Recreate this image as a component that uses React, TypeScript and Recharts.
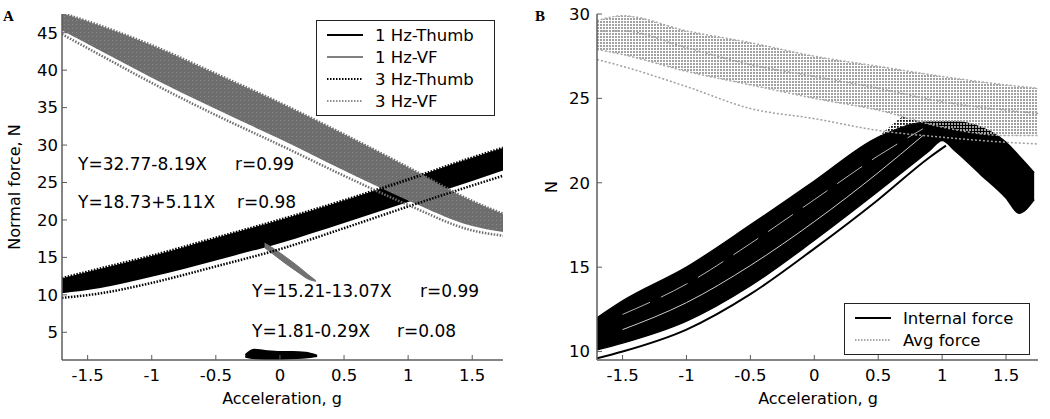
import React from "react";
import { ComposedChart, Area, Line, XAxis, YAxis, Legend } from "recharts";

// ---- panel A: normal force vs acceleration ----
const accA = [-1.7, -1.4, -1.0, -0.5, 0, 0.5, 1.0, 1.5, 1.74];
const vfHigh = [47.6, 45.9, 43.3, 39.5, 35.6, 31.4, 27.0, 22.5, 20.8];
const vfLow = [45.3, 42.6, 39.0, 34.8, 30.8, 26.6, 22.6, 19.2, 18.4];
const vfEdge = [44.8, 42.0, 38.3, 34.0, 30.0, 25.9, 22.0, 18.6, 17.9];
const thumbHigh = [12.2, 13.5, 15.2, 17.6, 20.0, 22.6, 25.4, 28.3, 29.6];
const thumbLow = [10.2, 10.9, 12.4, 14.6, 16.9, 19.6, 22.4, 25.2, 26.6];
const thumbEdge = [9.6, 10.2, 11.6, 13.8, 16.1, 18.9, 21.8, 24.6, 25.9];

const sliverAcc = [-0.12, -0.05, 0.05, 0.15, 0.22, 0.28];
const sliverHigh = [16.9, 16.2, 15.0, 13.7, 12.7, 11.9];
const sliverLow = [16.3, 15.4, 14.1, 12.9, 12.1, 11.8];

const blobAcc = [-0.27, -0.2, -0.1, 0, 0.1, 0.2, 0.29];
const blobHigh = [2.0, 2.7, 2.5, 2.4, 2.4, 2.3, 1.9];
const blobLow = [1.7, 1.5, 1.4, 1.4, 1.5, 1.6, 1.8];

const xTicks = [-1.5, -1, -0.5, 0, 0.5, 1, 1.5];
const yTicksA = [5, 10, 15, 20, 25, 30, 35, 40, 45];

// ---- panel B: internal / average force ----
const accB = [-1.7, -1.5, -1.0, -0.5, 0, 0.5, 1.0, 1.5, 1.75];
const avgHigh = [29.6, 29.9, 29.0, 28.3, 27.5, 26.9, 26.3, 25.8, 25.6];
const avgMid = [29.0, 29.0, 28.0, 27.0, 26.3, 25.6, 24.8, 24.3, 24.1];
const avgLow = [27.9, 27.6, 26.6, 25.8, 25.0, 24.3, 23.3, 22.8, 22.8];
const avgEdge = [27.3, 26.9, 25.7, 24.4, 23.8, 23.1, 22.7, 22.4, 22.3];

const accInt = [-1.7, -1.5, -1.0, -0.5, 0, 0.5, 0.9, 1.0, 1.1, 1.3, 1.5, 1.6, 1.72];
const intHigh = [12.0, 13.0, 15.0, 17.5, 20.1, 22.7, 23.6, 23.6, 23.6, 23.3, 22.4, 21.6, 20.6];
const intLow = [10.1, 10.5, 11.8, 13.9, 16.6, 19.5, 21.9, 22.5, 21.9, 20.5, 19.1, 18.2, 19.0];
const capAcc = [0.5, 0.7, 0.9, 1.0, 1.1, 1.3, 1.5];
const capHigh = [22.7, 24.0, 24.9, 25.4, 25.0, 23.8, 22.4];
const capLow = [22.7, 23.2, 23.6, 23.6, 23.6, 23.3, 22.4];
const outerAcc = [-1.7, -1.5, -1.0, -0.5, 0, 0.5, 0.9, 1.03];
const intOuter = [9.6, 10.0, 11.3, 13.4, 16.1, 19.0, 21.5, 22.2];
const streakAcc = [-1.5, -1.0, -0.5, 0, 0.5, 0.85];
const streak1 = [11.3, 12.9, 15.1, 17.7, 20.6, 22.8];
const streak2 = [12.2, 14.0, 16.4, 19.0, 21.6, 23.2];
const yTicksB = [10, 15, 20, 25, 30];

const legendA = [
  { name: "1 Hz-Thumb", color: "#000", dash: undefined },
  { name: "1 Hz-VF", color: "#808080", dash: undefined },
  { name: "3 Hz-Thumb", color: "#000", dash: "1.5 1.5" },
  { name: "3 Hz-VF", color: "#909090", dash: "1.5 1.5" },
];
const legendB = [
  { name: "Internal force", color: "#000", dash: undefined },
  { name: "Avg force", color: "#a8a8a8", dash: "1.5 1.5" },
];

const FONT = "DejaVu Sans, sans-serif";
const FRAME = "#5c5c5c";

const band = (xs: number[], lo: number[], hi: number[]) =>
  xs.map((x, i) => ({ x, r: [lo[i], hi[i]] }));
const trace = (xs: number[], ys: number[]) => xs.map((x, i) => ({ x, y: ys[i] }));

function LegendBox({ items, width }: { items: typeof legendA; width: number }) {
  return (
    <div
      style={{
        border: "1.5px solid #222",
        background: "#fff",
        boxSizing: "border-box",
        width,
        padding: "3px 0 3px 0",
        fontFamily: FONT,
        fontSize: 16.5,
        color: "#000",
      }}
    >
      {items.map((it) => (
        <div key={it.name} style={{ display: "flex", alignItems: "center", height: 22 }}>
          <svg width={58} height={10}>
            <line x1={10} x2={46} y1={5} y2={5} stroke={it.color} strokeWidth={2} strokeDasharray={it.dash} />
          </svg>
          <span style={{ lineHeight: "21px" }}>{it.name}</span>
        </div>
      ))}
    </div>
  );
}

const tickStyle = { fill: "#000", fontSize: 16.5, fontFamily: FONT };
const axisLine = { stroke: FRAME, strokeWidth: 1.5 };

function frameAxes(xDom: number[], yDom: number[], yTicks: number[], yWidth: number, yMargin: number) {
  return [
    <XAxis key="xb" dataKey="x" type="number" domain={xDom} ticks={xTicks} allowDataOverflow interval={0}
      tickSize={-5} tickMargin={14} height={50} axisLine={axisLine} tickLine={{ stroke: FRAME }} tick={tickStyle} />,
    <XAxis key="xt" xAxisId="top" orientation="top" dataKey="x" type="number" domain={xDom} ticks={xTicks}
      allowDataOverflow interval={0} tickSize={-5} height={0} axisLine={axisLine} tickLine={{ stroke: FRAME }} tick={false} />,
    <YAxis key="yl" type="number" domain={yDom} ticks={yTicks} allowDataOverflow interval={0} width={yWidth}
      tickSize={-5} tickMargin={yMargin} axisLine={axisLine} tickLine={{ stroke: FRAME }} tick={tickStyle} />,
    <YAxis key="yr" yAxisId="right" orientation="right" type="number" domain={yDom} ticks={yTicks} allowDataOverflow
      interval={0} width={0} tickSize={-5} axisLine={axisLine} tickLine={{ stroke: FRAME }} tick={false} />,
  ];
}

function ChartA() {
  return (
    <ComposedChart width={525} height={419} margin={{ top: 14, right: 22, bottom: 9, left: 0 }}>
      {frameAxes([-1.7, 1.74], [1.3, 47.5], yTicksA, 62, 9)}
      <Area data={band(accA, thumbLow, thumbHigh)} dataKey="r" type="monotone" stroke="none" fill="#000" fillOpacity={1} isAnimationActive={false} />
      <Line data={trace(accA, thumbEdge)} dataKey="y" type="monotone" stroke="#000" strokeWidth={2.5} strokeDasharray="1.5 1.5" dot={false} isAnimationActive={false} />
      <Line data={trace(accA, thumbHigh)} dataKey="y" type="monotone" stroke="#000" strokeWidth={3} strokeDasharray="1.5 1.5" dot={false} isAnimationActive={false} />
      <Area data={band(accA, vfLow, vfHigh)} dataKey="r" type="monotone" stroke="none" fill="#6e6e6e" fillOpacity={1} isAnimationActive={false} />
      <Area data={band(accA, vfLow, vfHigh)} dataKey="r" type="monotone" stroke="none" fill="url(#vfHatch)" fillOpacity={1} isAnimationActive={false} />
      <Line data={trace(accA, vfEdge)} dataKey="y" type="monotone" stroke="#6e6e6e" strokeWidth={2.5} strokeDasharray="1.5 1.5" dot={false} isAnimationActive={false} />
      <Line data={trace(accA, vfHigh)} dataKey="y" type="monotone" stroke="#6e6e6e" strokeWidth={3} strokeDasharray="1.5 1.5" dot={false} isAnimationActive={false} />
      <Area data={band(sliverAcc, sliverLow, sliverHigh)} dataKey="r" type="monotone" stroke="#707070" strokeWidth={1} fill="#707070" fillOpacity={1} isAnimationActive={false} />
      <Area data={band(blobAcc, blobLow, blobHigh)} dataKey="r" type="monotone" stroke="#000" strokeWidth={1.5} fill="#000" fillOpacity={1} isAnimationActive={false} />
      <Legend layout="vertical" align="center" verticalAlign="middle"
        wrapperStyle={{ position: "absolute", left: 316, top: 20, width: 179 }}
        content={() => <LegendBox items={legendA} width={179} />} />
    </ComposedChart>
  );
}

function ChartB() {
  return (
    <ComposedChart width={525} height={419} margin={{ top: 14, right: 12, bottom: 9, left: 0 }}>
      {frameAxes([-1.7, 1.75], [9.5, 30], yTicksB, 72, 12)}
      <Area data={band(accInt, intLow, intHigh)} dataKey="r" type="monotone" stroke="#000" strokeWidth={1.5} fill="#000" fillOpacity={1} isAnimationActive={false} />
      <Area data={band(capAcc, capLow, capHigh)} dataKey="r" type="monotone" stroke="none" fill="url(#capDots)" fillOpacity={1} isAnimationActive={false} />
      <Line data={trace(outerAcc, intOuter)} dataKey="y" type="monotone" stroke="#000" strokeWidth={2} dot={false} isAnimationActive={false} />
      <Line data={trace(streakAcc, streak1)} dataKey="y" type="monotone" stroke="#fff" strokeWidth={0.8} dot={false} isAnimationActive={false} />
      <Line data={trace(streakAcc, streak2)} dataKey="y" type="monotone" stroke="#fff" strokeWidth={0.7} strokeDasharray="30 12" dot={false} isAnimationActive={false} />
      <Area data={band(accB, avgLow, avgHigh)} dataKey="r" type="monotone" stroke="none" fill="url(#avgDots)" fillOpacity={1} isAnimationActive={false} />
      <Line data={trace(accB, avgHigh)} dataKey="y" type="monotone" stroke="#a8a8a8" strokeWidth={1.5} strokeDasharray="2 2" dot={false} isAnimationActive={false} />
      <Line data={trace(accB, avgMid)} dataKey="y" type="monotone" stroke="#a0a0a0" strokeWidth={1.5} strokeDasharray="2 2" dot={false} isAnimationActive={false} />
      <Line data={trace(accB, avgLow)} dataKey="y" type="monotone" stroke="#a8a8a8" strokeWidth={1.5} strokeDasharray="2 2" dot={false} isAnimationActive={false} />
      <Line data={trace(accB, avgEdge)} dataKey="y" type="monotone" stroke="#a0a0a0" strokeWidth={1.5} strokeDasharray="2 2" dot={false} isAnimationActive={false} />
      <Legend layout="vertical" align="center" verticalAlign="middle"
        wrapperStyle={{ position: "absolute", left: 319, top: 303, width: 186 }}
        content={() => <LegendBox items={legendB} width={186} />} />
    </ComposedChart>
  );
}

export default function App() {
  const txt = { fontFamily: FONT, fontSize: 17, fill: "#000" };
  return (
    <div style={{ position: "absolute", left: 0, top: 0, width: 1050, height: 419, background: "#fff", overflow: "hidden" }}>
      <svg width={0} height={0} style={{ position: "absolute" }}>
        <defs>
          <pattern id="avgDots" width="3" height="3" patternUnits="userSpaceOnUse">
            <rect width="2" height="2" fill="#a2a2a2" />
          </pattern>
          <pattern id="capDots" width="3" height="3" patternUnits="userSpaceOnUse">
            <rect width="1.8" height="1.8" fill="#111" />
          </pattern>
          <pattern id="vfHatch" width="4" height="4" patternUnits="userSpaceOnUse">
            <rect width="1" height="1" fill="#8a8a8a" />
          </pattern>
        </defs>
      </svg>
      <div style={{ position: "absolute", left: 0, top: 0 }}>
        <ChartA />
      </div>
      <div style={{ position: "absolute", left: 525, top: 0 }}>
        <ChartB />
      </div>
      <svg width={1050} height={419} style={{ position: "absolute", left: 0, top: 0, pointerEvents: "none" }}>
        <text x={3} y={21} fontFamily="Liberation Serif, serif" fontWeight="bold" fontSize={15}>A</text>
        <text x={535} y={21} fontFamily="Liberation Serif, serif" fontWeight="bold" fontSize={15}>B</text>
        <text transform="translate(20,187) rotate(-90)" textAnchor="middle" fontFamily={FONT} fontSize={16}>Normal force, N</text>
        <text transform="translate(557,187) rotate(-90)" textAnchor="middle" fontFamily={FONT} fontSize={16}>N</text>
        <text x={282} y={404} textAnchor="middle" fontFamily={FONT} fontSize={16}>Acceleration, g</text>
        <text x={818} y={404} textAnchor="middle" fontFamily={FONT} fontSize={16}>Acceleration, g</text>
        <text x={78} y={170} {...txt}>Y=32.77-8.19X</text>
        <text x={235} y={170} {...txt}>r=0.99</text>
        <text x={78} y={208} {...txt}>Y=18.73+5.11X</text>
        <text x={237} y={208} {...txt}>r=0.98</text>
        <text x={252} y={297} {...txt}>Y=15.21-13.07X</text>
        <text x={420} y={297} {...txt}>r=0.99</text>
        <text x={252} y={337} {...txt}>Y=1.81-0.29X</text>
        <text x={397} y={337} {...txt}>r=0.08</text>
      </svg>
    </div>
  );
}
